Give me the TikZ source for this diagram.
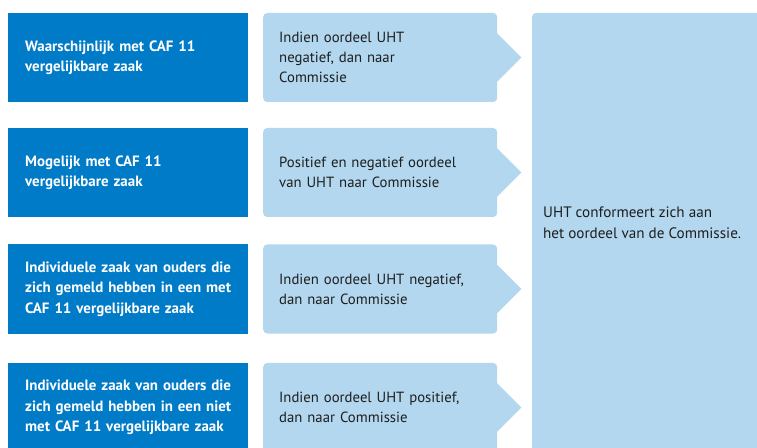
\documentclass[tikz,border=0pt]{standalone}
\usepackage{fontspec}
\setmainfont{PT Sans}
\definecolor{darkblue}{HTML}{007BC7}
\definecolor{lightblue}{HTML}{B2D7EE}
\definecolor{ink}{HTML}{1E1E1E}
\begin{document}
\begin{tikzpicture}[x=1bp,y=-1bp,
  darkbox/.style={fill=darkblue, text=white, anchor=west,
    minimum height=89bp, text width=206bp, inner xsep=17bp, inner ysep=0pt,
    align=left, font=\fontsize{15}{20.5}\selectfont\bfseries},
  lightbox/.style={fill=lightblue, text=ink, anchor=west, rounded corners=4bp,
    minimum height=89bp, text width=202bp, inner xsep=16bp, inner ysep=0pt,
    align=left, font=\fontsize{14.8}{20}\selectfont},
  tip/.style={fill=lightblue},
  finaltext/.style={text=ink, anchor=west, inner sep=0pt, align=left,
    font=\fontsize{15.2}{21}\selectfont}]
\useasboundingbox (0,0) rectangle (757,448);
\clip (0,0) rectangle (757,448);

% big right box
\fill[lightblue, rounded corners=4bp] (532,13) rectangle (780,470);
\node[finaltext] (final) at (543,223) {UHT conformeert zich aan\\het oordeel van de Commissie.};

% row 1
\node[darkbox] (d1) at (8,57.5) {Waarschijnlijk met CAF 11\\vergelijkbare zaak};
\node[lightbox] (l1) at (263,57.5) {Indien oordeel UHT\\negatief, dan naar\\Commissie};
\fill[tip] ([xshift=-1bp]l1.east) ++(0,-25) -- ++(25,25) -- ++(-25,25) -- cycle;

% row 2
\node[darkbox] (d2) at (8,172.5) {Mogelijk met CAF 11\\vergelijkbare zaak};
\node[lightbox] (l2) at (263,172.5) {Positief en negatief oordeel\\van UHT naar Commissie};
\fill[tip] ([xshift=-1bp]l2.east) ++(0,-25) -- ++(25,25) -- ++(-25,25) -- cycle;

% row 3
\node[darkbox] (d3) at (8,289) {Individuele zaak van ouders die\\zich gemeld hebben in een met\\CAF 11 vergelijkbare zaak};
\node[lightbox] (l3) at (263,289) {Indien oordeel UHT negatief,\\dan naar Commissie};
\fill[tip] ([xshift=-1bp]l3.east) ++(0,-25) -- ++(25,25) -- ++(-25,25) -- cycle;

% row 4
\node[darkbox] (d4) at (8,407.5) {Individuele zaak van ouders die\\zich gemeld hebben in een niet\\met CAF 11 vergelijkbare zaak};
\node[lightbox] (l4) at (263,407.5) {Indien oordeel UHT positief,\\dan naar Commissie};
\fill[tip] ([xshift=-1bp]l4.east) ++(0,-25) -- ++(25,25) -- ++(-25,25) -- cycle;
\end{tikzpicture}
\end{document}
